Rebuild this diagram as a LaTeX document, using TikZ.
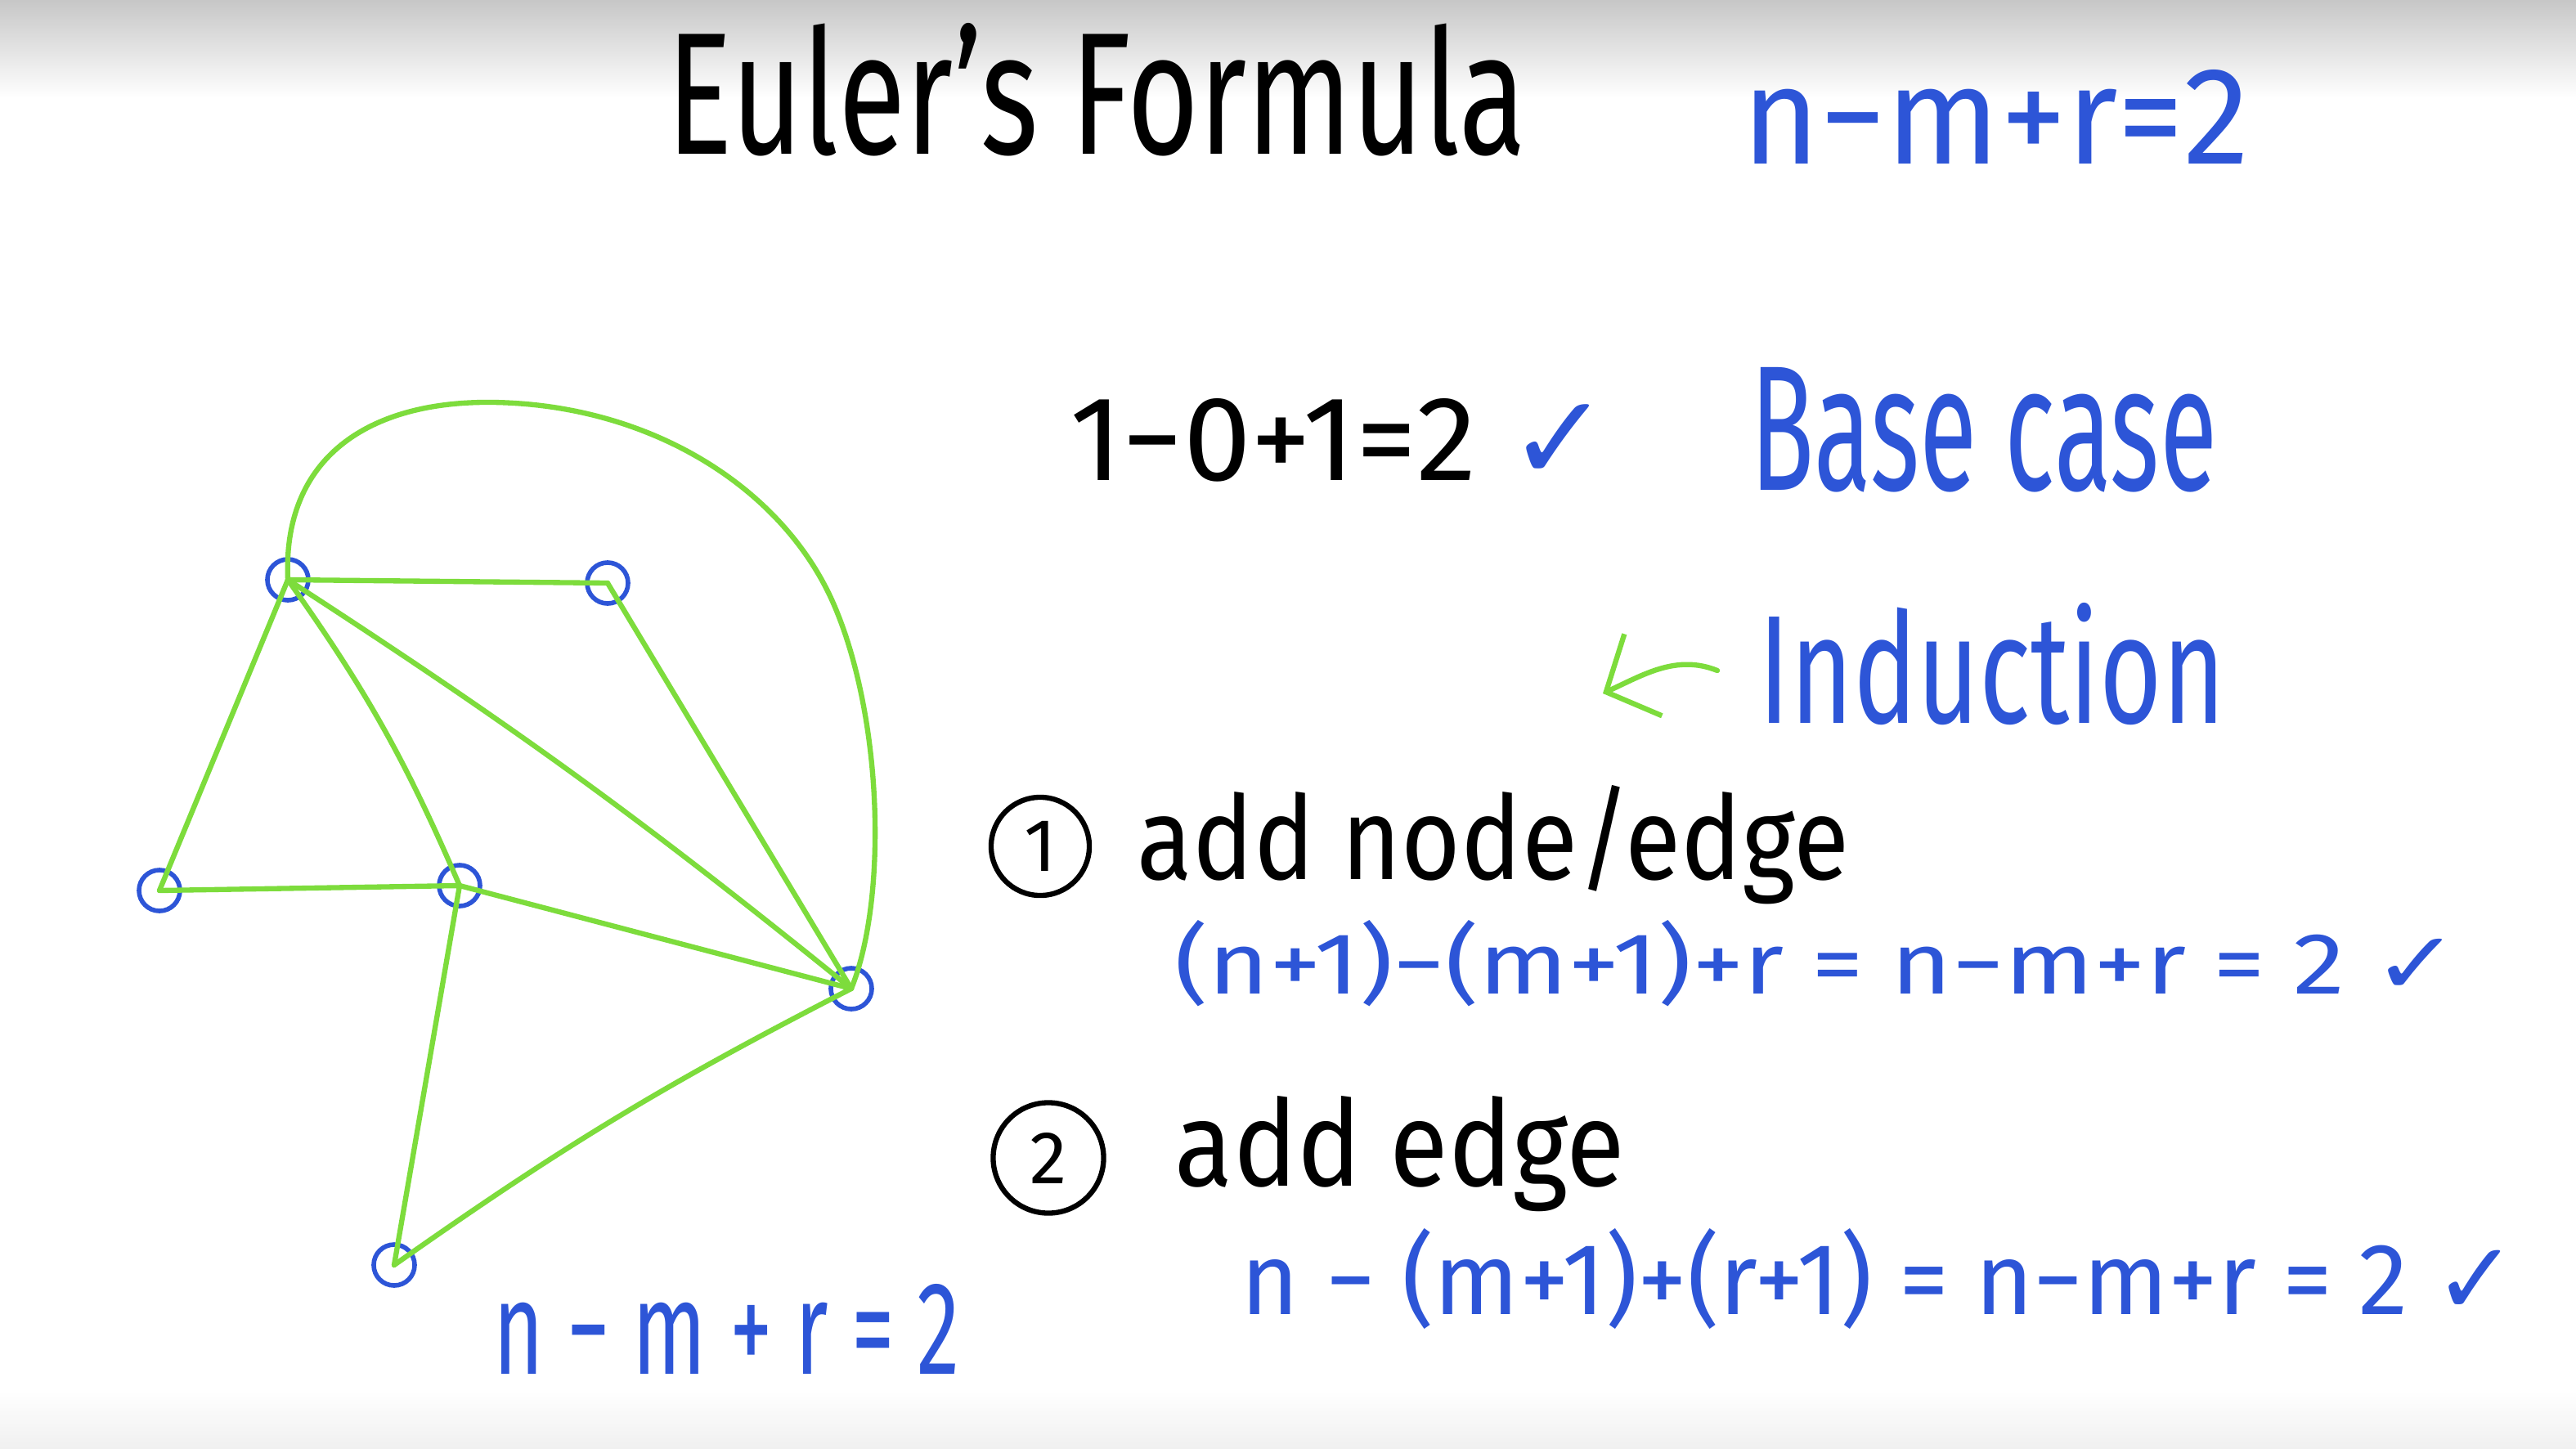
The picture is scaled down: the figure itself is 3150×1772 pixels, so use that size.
\documentclass[tikz,border=0pt]{standalone}
\usepackage{fontspec}
\setmainfont{Fira Sans}
\newfontfamily\symbolfont{DejaVu Sans}
\usepackage{graphicx}
\usetikzlibrary{arrows.meta}
\definecolor{chalkgreen}{RGB}{125,220,60}
\definecolor{penblue}{RGB}{45,85,215}
\newcommand{\scrawl}[3]{\resizebox{#1}{#2}{#3}}
\newcommand{\tick}{{\symbolfont ✓}}

\tikzset{
  vertex/.style={circle, draw=penblue, line width=1.6pt, minimum size=0.5cm, inner sep=0pt},
  edge/.style={draw=chalkgreen, line width=1.8pt, line cap=round},
  words/.style={anchor=base west, inner sep=0pt},
  numbered/.style={circle, draw, line width=1.8pt, inner sep=0pt, font=\fontsize{26}{26}\selectfont}
}

\begin{document}
\begin{tikzpicture}[x=0.01cm, y=-0.01cm]
\useasboundingbox (0,0) rectangle (3150,1772);
\fill[white] (0,0) rectangle (3150,1772);
\shade[top color=black!22, bottom color=white] (0,0) rectangle (3150,120);
\shade[top color=white, bottom color=black!6] (0,1700) rectangle (3150,1772);

% the graph
\node[vertex] (a) at (352,709) {};
\node[vertex] (b) at (743,713) {};
\node[vertex] (c) at (195,1089) {};
\node[vertex] (d) at (562,1083) {};
\node[vertex] (e) at (1041,1209) {};
\node[vertex] (f) at (482,1547) {};
\draw[edge] (a.center) -- (b.center);
\draw[edge] (b.center) -- (e.center);
\draw[edge] (a.center) -- (c.center);
\draw[edge] (a.center) to[bend left=6] (d.center);
\draw[edge] (a.center) to[bend left=3] (e.center);
\draw[edge] (c.center) -- (d.center);
\draw[edge] (d.center) -- (e.center);
\draw[edge] (d.center) -- (f.center);
\draw[edge] (f.center) to[bend left=4] (e.center);
\draw[edge] (a.center) .. controls (345,560) and (450,490) .. (603,492)
  .. controls (800,495) and (960,600) .. (1020,740)
  .. controls (1080,880) and (1085,1100) .. (e.center);
\node[words, text=penblue] (count) at (603,1680) {\scrawl{5.7cm}{1.1cm}{n − m + r = 2}};

% heading
\node[words] (title) at (815,188) {\scrawl{10.5cm}{1.6cm}{Euler's Formula}};
\node[words, text=penblue] (formula) at (2130,200) {\scrawl{6.2cm}{1.15cm}{n−m+r=2}};

% base case
\node[words] (base) at (1308,587) {\scrawl{6.6cm}{1.0cm}{1−0+1=2 \textcolor{penblue}{\tick}}};
\node[words, text=penblue] (basecase) at (2140,599) {\scrawl{5.7cm}{1.5cm}{Base case}};

% induction
\node[words, text=penblue] (induct) at (2150,884) {\scrawl{5.7cm}{1.47cm}{Induction}};
\coordinate (arrowtail) at (2100,820);
\coordinate (arrowtip) at (1960,848);
\draw[edge, -{Straight Barb[length=5mm, width=11mm]}] (arrowtail) .. controls (2050,800) and (2010,825) .. (arrowtip);

\node[numbered, minimum size=1.2cm] (one) at (1272,1035) {1};
\node[words] (step1) at (1390,1075) {\scrawl{8.7cm}{1.15cm}{add node/edge}};
\node[words, text=penblue] (proof1) at (1436,1215) {\scrawl{15.7cm}{0.9cm}{(n+1)−(m+1)+r = n−m+r = 2 \tick}};

\node[numbered, minimum size=1.35cm] (two) at (1282,1416) {2};
\node[words] (step2) at (1436,1450) {\scrawl{5.5cm}{1.1cm}{add edge}};
\node[words, text=penblue] (proof2) at (1517,1607) {\scrawl{15.6cm}{1.05cm}{n − (m+1)+(r+1) = n−m+r = 2 \tick}};
\end{tikzpicture}
\end{document}
